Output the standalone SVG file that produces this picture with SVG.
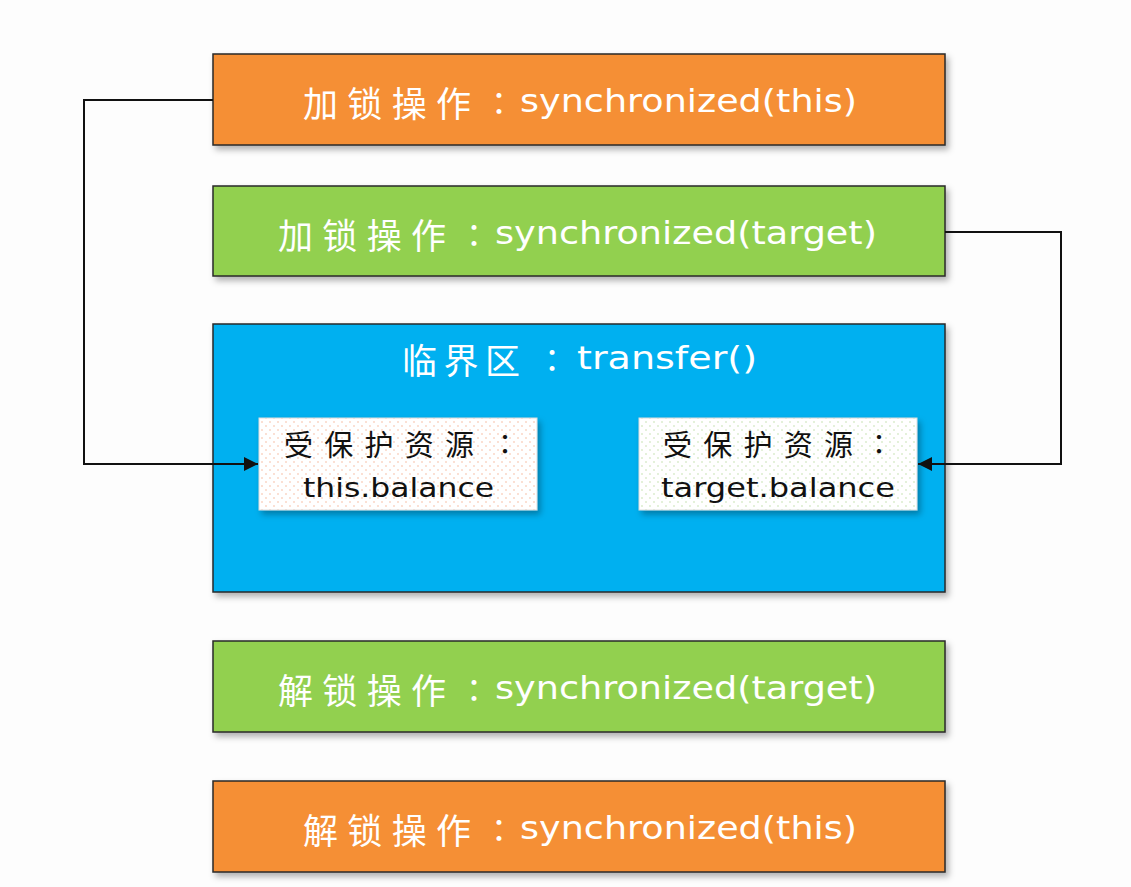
<svg xmlns="http://www.w3.org/2000/svg" width="1131" height="887" viewBox="0 0 1131 887">
<style>
.box{stroke:#2a2a2a;stroke-width:1.5;filter:url(#sh)}
.orange{fill:#f58f36}
.green{fill:#92d050}
.blue{fill:#00b0f0}
.c{font-family:"Noto Sans CJK SC",sans-serif;font-size:35px;fill:#fff;dominant-baseline:central}
.k{font-family:"Noto Sans CJK JP",sans-serif;font-size:32px;fill:#fff;dominant-baseline:central;text-anchor:middle}
.l{font-family:"DejaVu Sans","Noto Sans",sans-serif;font-size:32px;fill:#fff;dominant-baseline:central}
.cs{font-family:"Noto Sans CJK SC",sans-serif;font-size:29px;fill:#111;dominant-baseline:central}
.ks{font-family:"Noto Sans CJK JP",sans-serif;font-size:28px;fill:#111;dominant-baseline:central;text-anchor:middle}
.ls{font-family:"DejaVu Sans","Noto Sans",sans-serif;font-size:27px;fill:#111;dominant-baseline:central}
.res{stroke:#dcdcdc;stroke-width:1;filter:url(#sh)}
.conn{fill:none;stroke:#111;stroke-width:2}
</style>
<defs>
<filter id="sh" x="-10%" y="-10%" width="125%" height="140%">
<feDropShadow dx="3" dy="4" stdDeviation="3" flood-color="#000" flood-opacity="0.3"/>
</filter>
<pattern id="dotO" width="8" height="8" patternUnits="userSpaceOnUse">
<rect width="8" height="8" fill="#fff"/>
<circle cx="2" cy="2" r="0.7" fill="#f4a98a"/>
<circle cx="6" cy="6" r="0.7" fill="#f4a98a"/>
</pattern>
<pattern id="dotG" width="8" height="8" patternUnits="userSpaceOnUse">
<rect width="8" height="8" fill="#fff"/>
<circle cx="2" cy="2" r="0.7" fill="#b5d99a"/>
<circle cx="6" cy="6" r="0.7" fill="#b5d99a"/>
</pattern>
<marker id="arr" viewBox="0 0 10 10" refX="10" refY="5" markerWidth="7" markerHeight="7" orient="auto-start-reverse" markerUnits="strokeWidth">
<path d="M0,0 L10,5 L0,10 z" fill="#111"/>
</marker>
</defs>
<rect width="1131" height="887" fill="#fdfdfd"/>
<g id="lock-this">
<rect class="box orange" x="213" y="54" width="732" height="91"/>
<text class="c" x="303" y="101" textLength="168" lengthAdjust="spacing">加锁操作</text>
<text class="k" x="499" y="101">：</text>
<text class="l" x="520" y="101" textLength="337" lengthAdjust="spacingAndGlyphs">synchronized(this)</text>
</g>
<g id="lock-target">
<rect class="box green" x="213" y="186" width="732" height="90"/>
<text class="c" x="278" y="233" textLength="168" lengthAdjust="spacing">加锁操作</text>
<text class="k" x="474" y="233">：</text>
<text class="l" x="495" y="233" textLength="382" lengthAdjust="spacingAndGlyphs">synchronized(target)</text>
</g>
<g id="critical">
<rect class="box blue" x="213" y="324" width="732" height="268"/>
<text class="c" x="402" y="358" textLength="118" lengthAdjust="spacing">临界区</text>
<text class="k" x="552" y="358">：</text>
<text class="l" x="577" y="358" textLength="180" lengthAdjust="spacingAndGlyphs">transfer()</text>
</g>
<g id="res-this">
<rect class="res" x="259" y="418" width="278" height="92" fill="url(#dotO)"/>
<text class="cs" x="284" y="443" textLength="190" lengthAdjust="spacing">受保护资源</text>
<text class="ks" x="505" y="443">：</text>
<text class="ls" x="303" y="487" textLength="191" lengthAdjust="spacingAndGlyphs">this.balance</text>
</g>
<g id="res-target">
<rect class="res" x="639" y="418" width="278" height="92" fill="url(#dotG)"/>
<text class="cs" x="663" y="443" textLength="190" lengthAdjust="spacing">受保护资源</text>
<text class="ks" x="879" y="443">：</text>
<text class="ls" x="661" y="487" textLength="234" lengthAdjust="spacingAndGlyphs">target.balance</text>
</g>
<g id="unlock-target">
<rect class="box green" x="213" y="641" width="732" height="91"/>
<text class="c" x="278" y="688" textLength="168" lengthAdjust="spacing">解锁操作</text>
<text class="k" x="474" y="688">：</text>
<text class="l" x="495" y="688" textLength="382" lengthAdjust="spacingAndGlyphs">synchronized(target)</text>
</g>
<g id="unlock-this">
<rect class="box orange" x="213" y="781" width="732" height="91"/>
<text class="c" x="303" y="828" textLength="168" lengthAdjust="spacing">解锁操作</text>
<text class="k" x="499" y="828">：</text>
<text class="l" x="520" y="828" textLength="337" lengthAdjust="spacingAndGlyphs">synchronized(this)</text>
</g>
<g id="connectors">
<path class="conn" d="M213,100 H84 V464 H258" marker-end="url(#arr)"/>
<path class="conn" d="M945,232 H1061 V464 H918" marker-end="url(#arr)"/>
</g>
</svg>
